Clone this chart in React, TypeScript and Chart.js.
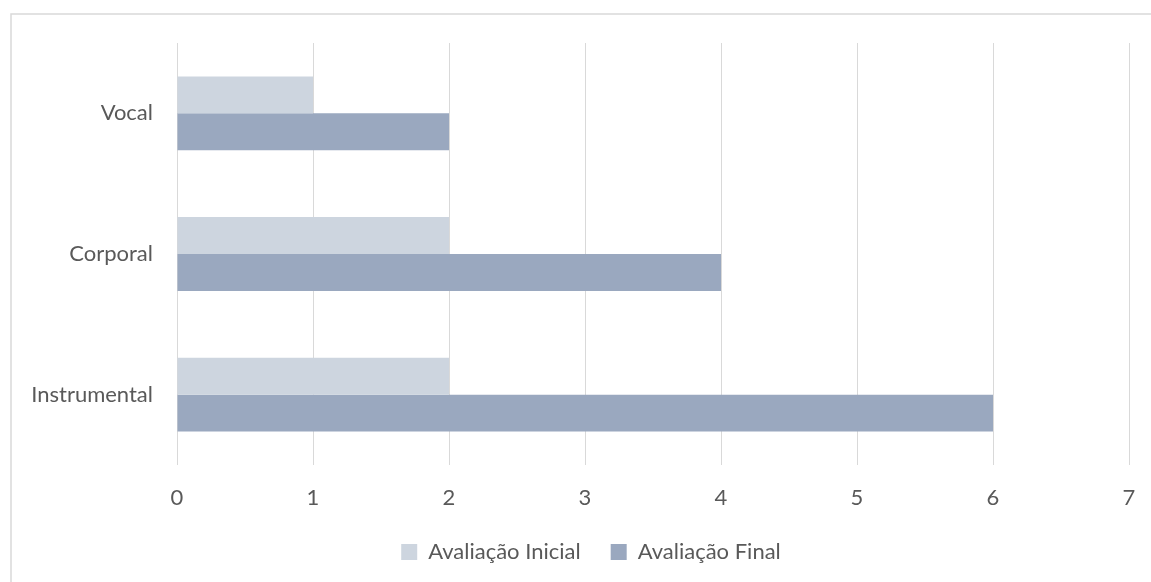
import React, { useEffect, useRef } from "react";
import { Chart, registerables } from "chart.js";

Chart.register(...registerables);

const categories = ["Vocal", "Corporal", "Instrumental"];
const seriesInicial = [1, 2, 2];
const seriesFinal = [2, 4, 6];
const seriesNames = ["Avaliação Inicial", "Avaliação Final"];
const xTicks = [0, 1, 2, 3, 4, 5, 6, 7];

const FONT = "Lato";
const FS = 22;
const TEXT = "#595959";
const GRID = "#D9D9D9";

const borderPlugin = {
  id: "outerBorder",
  beforeDraw(chart: any) {
    const ctx = chart.ctx;
    ctx.save();
    ctx.fillStyle = "#ffffff";
    ctx.fillRect(0, 0, chart.width, chart.height);
    ctx.strokeStyle = GRID;
    ctx.lineWidth = 1.5;
    ctx.strokeRect(11, 14, chart.width + 50, chart.height + 50);
    ctx.restore();
  },
};

export default function App() {
  const ref = useRef<HTMLCanvasElement>(null);
  useEffect(() => {
    if (!ref.current) return;
    const chart = new Chart(ref.current, {
      type: "bar",
      data: {
        labels: categories,
        datasets: [
          {
            label: seriesNames[0],
            data: seriesInicial,
            backgroundColor: "#CDD5DF",
            categoryPercentage: 0.525,
            barPercentage: 1,
          },
          {
            label: seriesNames[1],
            data: seriesFinal,
            backgroundColor: "#9AA8BF",
            categoryPercentage: 0.525,
            barPercentage: 1,
          },
        ],
      },
      options: {
        indexAxis: "y",
        responsive: false,
        animation: false,
        layout: { padding: { top: 43, right: 18, left: 0, bottom: 9 } },
        scales: {
          x: {
            min: 0,
            max: 7,
            afterBuildTicks: (scale: any) => {
              scale.ticks = xTicks.map((v) => ({ value: v }));
            },
            afterFit: (scale: any) => {
              scale.height = 46;
            },
            grid: { color: GRID, drawTicks: false, lineWidth: 1 },
            border: { display: false },
            ticks: {
              color: TEXT,
              font: { family: FONT, size: FS },
              padding: 20,
            },
          },
          y: {
            afterFit: (scale: any) => {
              scale.width = 177;
            },
            grid: { display: false, drawTicks: false },
            border: { display: false },
            ticks: {
              color: TEXT,
              font: { family: FONT, size: FS },
              padding: 24,
            },
          },
          y2: {
            type: "linear",
            position: "right",
            afterFit: (scale: any) => {
              scale.width = 53;
            },
            grid: { display: false, drawTicks: false },
            border: { display: false },
            ticks: { display: false },
          },
        },
        plugins: {
          legend: {
            position: "bottom",
            labels: {
              color: TEXT,
              font: { family: FONT, size: FS },
              boxWidth: 16,
              boxHeight: 16,
              padding: 30,
            },
          },
          tooltip: { enabled: false },
        },
      },
      plugins: [borderPlugin],
    });
    return () => chart.destroy();
  }, []);
  return (
    <div style={{ position: "absolute", left: 0, top: 0, width: 1151, height: 582, overflow: "hidden" }}>
      <canvas ref={ref} width={1200} height={582} />
    </div>
  );
}
